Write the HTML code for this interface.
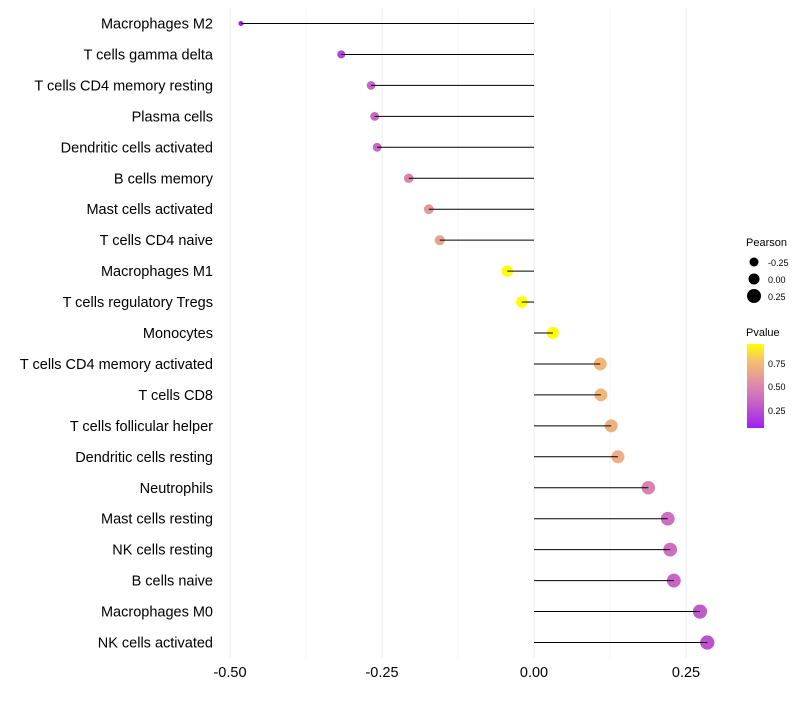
<!DOCTYPE html>
<html><head><meta charset="utf-8"><style>
body{margin:0;background:#fff;font-family:"Liberation Sans",sans-serif}
</style></head><body>
<svg id="c" width="800" height="700" xmlns="http://www.w3.org/2000/svg" font-family="Liberation Sans, sans-serif">
<defs><linearGradient id="pg" x1="0" y1="1" x2="0" y2="0">
<stop offset="0" stop-color="#a020f0"/><stop offset="0.35" stop-color="#cc6cc0"/><stop offset="0.55" stop-color="#e190a4"/><stop offset="0.8" stop-color="#f5c070"/><stop offset="1" stop-color="#ffff00"/></linearGradient></defs>
<g id="grid"></g><g id="marks"></g><g id="ylab"></g><g id="xlab"></g>
<g font-size="10">
<text x="746" y="246" font-size="11">Pearson</text>
<circle cx="754" cy="262" r="4.5" fill="#000"/><text x="768" y="266" font-size="9">-0.25</text>
<circle cx="754" cy="279" r="5.5" fill="#000"/><text x="768" y="283" font-size="9">0.00</text>
<circle cx="754" cy="296" r="7" fill="#000"/><text x="768" y="300" font-size="9">0.25</text>
</g>
<g>
<text x="746" y="336" font-size="11">Pvalue</text>
<rect x="747" y="344" width="17" height="84" fill="url(#pg)"/>
<text x="768" y="367" font-size="9">0.75</text>
<text x="768" y="390" font-size="9">0.50</text>
<text x="768" y="414" font-size="9">0.25</text>
</g>
</svg>
<script>
const categories=["Macrophages M2","T cells gamma delta","T cells CD4 memory resting","Plasma cells","Dendritic cells activated","B cells memory","Mast cells activated","T cells CD4 naive","Macrophages M1","T cells regulatory  Tregs","Monocytes","T cells CD4 memory activated","T cells CD8","T cells follicular helper","Dendritic cells resting","Neutrophils","Mast cells resting","NK cells resting","B cells naive","Macrophages M0","NK cells activated"];
const pearson=[-0.482,-0.317,-0.268,-0.262,-0.258,-0.206,-0.173,-0.155,-0.044,-0.020,0.031,0.109,0.110,0.127,0.138,0.188,0.220,0.224,0.230,0.273,0.285];
const pvalue=[0.05,0.2,0.32,0.33,0.33,0.45,0.55,0.6,0.97,0.97,0.94,0.7,0.7,0.66,0.65,0.45,0.36,0.36,0.32,0.28,0.25];
const xTicks=[-0.5,-0.25,0,0.25];
const xTickLabels=["-0.50","-0.25","0.00","0.25"];
const NS="http://www.w3.org/2000/svg";
const x=v=>534+v*608;
const y=i=>23.5+i*30.95;
const rad=v=>Math.sqrt(Math.max(4,34.5+58*v));
const stops=[[0.06,[160,32,240]],[0.35,[204,108,192]],[0.5,[225,144,164]],[0.75,[245,192,112]],[0.95,[255,255,0]]];
function col(p){if(p<=stops[0][0])return stops[0][1];for(let k=1;k<stops.length;k++){if(p<=stops[k][0]){const a=stops[k-1],b=stops[k],t=(p-a[0])/(b[0]-a[0]);return a[1].map((c,j)=>Math.round(c+(b[1][j]-c)*t));}}return stops[stops.length-1][1];}
function mk(t,a,parent){const e=document.createElementNS(NS,t);for(const k in a)e.setAttribute(k,a[k]);parent.appendChild(e);return e;}
const grid=document.getElementById('grid'),marks=document.getElementById('marks'),yl=document.getElementById('ylab'),xl=document.getElementById('xlab');
for(let v=-0.5;v<=0.3;v+=0.125){const l=mk('line',{x1:x(v),x2:x(v),y1:8,y2:658,stroke:'#ececec','stroke-width':Math.abs((v*4)%1)<1e-6?1:0.6},grid);

}
categories.forEach((c,i)=>{
const t=mk('text',{x:213,y:y(i)+5,'text-anchor':'end','font-size':14.5,fill:'#000'},yl);t.textContent=c;


const cl=col(pvalue[i]);
const ci=mk('circle',{cx:x(pearson[i]),cy:y(i),r:rad(pearson[i]),fill:`rgb(${cl.join(',')})`},marks);


const ln=mk('line',{x1:x(0),x2:x(pearson[i]),y1:y(i),y2:y(i),stroke:'#000','stroke-width':1},marks);


});
xTicks.forEach((v,i)=>{const t=mk('text',{x:x(v),y:677,'text-anchor':'middle','font-size':14.5,fill:'#000'},xl);t.textContent=xTickLabels[i];

});
</script>
</body></html>
